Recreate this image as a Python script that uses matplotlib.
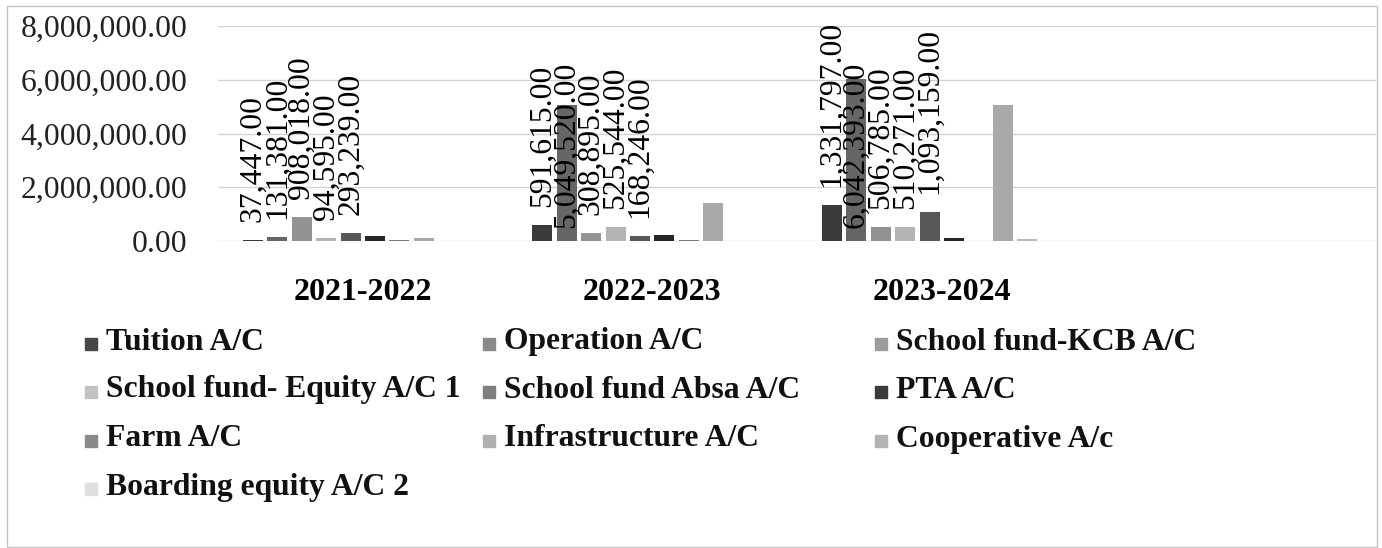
import numpy as np
import matplotlib
matplotlib.use("Agg")
import matplotlib.pyplot as plt
from matplotlib.patches import Rectangle
from matplotlib.ticker import FuncFormatter

plt.rcParams['font.family'] = ['Liberation Serif', 'DejaVu Serif']

# Years (a 4th empty slot is left on the axis, as in the original)
years = ['2021-2022', '2022-2023', '2023-2024']
accounts = ['Tuition A/C', 'Operation A/C', 'School fund-KCB A/C',
            'School fund- Equity A/C 1', 'School fund Absa A/C', 'PTA A/C',
            'Farm A/C', 'Infrastructure A/C', 'Cooperative A/c',
            'Boarding equity A/C 2']

# Balances per account, one value per year
tuition = [37447, 591615, 1331797]
operation = [131381, 5049520, 6042393]
kcb = [908018, 308895, 506785]
equity = [94595, 525544, 510271]
absa = [293239, 168246, 1093159]
pta = [190000, 220000, 120000]
farm = [40000, 20000, 0]
infrastructure = [110000, 1420000, 5050000]
cooperative = [0, 0, 60000]
boarding = [0, 0, 0]

series = [tuition, operation, kcb, equity, absa, pta, farm,
          infrastructure, cooperative, boarding]
labelled = 5  # only the first five accounts carry data labels

colors = ['#3a3a3a', '#666666', '#939393', '#b4b4b4', '#585858',
          '#262626', '#7c7c7c', '#a9a9a9', '#bababa', '#dcdcdc']
legend_colors = ['#474747', '#8a8a8a', '#9c9c9c', '#c2c2c2', '#7e7e7e',
                 '#3a3a3a', '#8a8a8a', '#b0b0b0', '#b3b3b3', '#dedede']

fig = plt.figure(figsize=(13.82, 5.48), dpi=100)
ax = fig.add_axes([218/1382, 1-241/548, (1376-218)/1382, (241-26)/548])

n = len(series)
slot = 0.0845
width = 0.069
x = np.arange(len(years))
for i, vals in enumerate(series):
    pos = x + (i - (n-1)/2) * slot
    ax.bar(pos, vals, width=width, color=colors[i], zorder=3)
    if i < labelled:
        for xp, v in zip(pos, vals):
            if v > 4e6:
                # too tall: Excel pulls the label down inside the bar
                ax.annotate(f'{v:,.2f}', (xp, 0), xytext=(0, 9),
                            textcoords='offset points', rotation=90,
                            ha='center', va='bottom', fontsize=22.8,
                            color='black', zorder=5)
            else:
                ax.annotate(f'{v:,.2f}', (xp, v), xytext=(0, 13),
                            textcoords='offset points', rotation=90,
                            ha='center', va='bottom', fontsize=22.8,
                            color='black', zorder=5)

ax.set_xlim(-0.5, 3.5)
ax.set_ylim(0, 8e6)
ax.set_yticks(np.arange(0, 8e6 + 1, 2e6))
ax.yaxis.set_major_formatter(FuncFormatter(lambda v, p: f'{v:,.2f}'))
ax.set_xticks(x)
ax.set_xticklabels(years, fontsize=23, fontweight='bold')
ax.tick_params(axis='x', length=0, pad=27)
ax.tick_params(axis='y', length=0, pad=22, labelsize=22.8, labelcolor='#222222')
ax.grid(axis='y', color='#d4d4d4', linewidth=1, zorder=0)
for s in ax.spines.values():
    s.set_visible(False)

# legend laid out like Excel's: 3 fixed-width columns
col_x = [85, 483, 875]
row_y = [342, 390, 439, 487]
W, H = 1382, 548
for i, name in enumerate(accounts):
    r, c = divmod(i, 3)
    mx, my = col_x[c], row_y[r]
    fig.patches.append(Rectangle((mx/W, 1-(my+8)/H), 12/W, 12/H,
                                 transform=fig.transFigure,
                                 color=legend_colors[i]))
    fig.text((mx+21)/W, 1-my/H, name, fontsize=22.8, fontweight='bold',
             va='center', ha='left', color='#111111')

# thin outer border of the chart object
fig.patches.append(Rectangle((7/W, 1/H), 1370/W, 541/H,
                             transform=fig.transFigure, fill=False,
                             edgecolor='#c4c4c4', linewidth=1))

fig.savefig('out.png', dpi=100)
